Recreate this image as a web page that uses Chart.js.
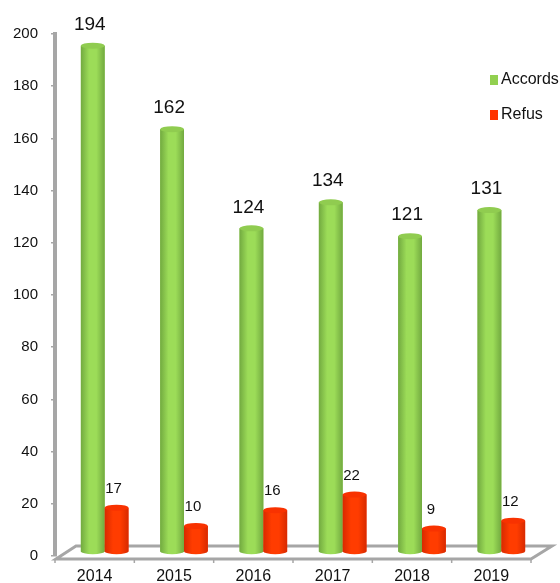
<!DOCTYPE html>
<html>
<head>
<meta charset="utf-8">
<style>
  html, body { margin: 0; padding: 0; background: #fff; }
  canvas { display: block; }
</style>
<script src="https://cdn.jsdelivr.net/npm/chart.js@4"></script>
</head>
<body>
<canvas id="chart" width="560" height="583"></canvas>
<script>
const years = ['2014', '2015', '2016', '2017', '2018', '2019'];
const accords = [194, 162, 124, 134, 121, 131];
const refus = [17, 10, 16, 22, 9, 12];
const yTicks = [0, 20, 40, 60, 80, 100, 120, 140, 160, 180, 200];

const FONT = '"Liberation Sans", Arial, sans-serif';
const GREY = '#a6a6a6';
// the series sit behind the axis plane, like the old 3D excel charts
const DEPTH_X = 10, DEPTH_Y = -4;

const styles = [
  { flat: '#92d050', edge: '#72aa40', mid: '#9cdc58', top: '#90cc50', labelSize: 19, labelGap: 21 },
  { flat: '#ff3300', edge: '#d82a00', mid: '#ff3c00', top: '#f83200', labelSize: 15, labelGap: 19 }
];

const floorPlugin = {
  id: 'floor',
  beforeDatasetsDraw(chart) {
    const { ctx, chartArea: a } = chart;
    const front = a.bottom + 3, back = a.bottom - 10;
    ctx.save();
    ctx.strokeStyle = GREY;
    ctx.lineWidth = 3;
    ctx.beginPath();
    ctx.moveTo(a.left + 1, front);
    ctx.lineTo(a.right, front);
    ctx.lineTo(a.right + 21, back);
    ctx.lineTo(a.left + 21, back);
    ctx.closePath();
    ctx.stroke();
    // tick marks between the categories
    ctx.lineWidth = 1.5;
    const step = (a.right - a.left) / years.length;
    for (let i = 0; i <= years.length; i++) {
      ctx.beginPath();
      ctx.moveTo(a.left + step * i, front);
      ctx.lineTo(a.left + step * i, front + 4);
      ctx.stroke();
    }
    ctx.restore();
    ctx.save();
    ctx.translate(DEPTH_X, DEPTH_Y);
  },
  afterDatasetsDraw(chart) {
    const ctx = chart.ctx;
    chart.data.datasets.forEach((ds, d) => {
      const st = styles[d];
      chart.getDatasetMeta(d).data.forEach(bar => {
        const left = bar.x - bar.width / 2, right = bar.x + bar.width / 2;
        const rx = bar.width / 2, ry = 3;
        const g = ctx.createLinearGradient(left, 0, right, 0);
        g.addColorStop(0, st.edge);
        g.addColorStop(0.35, st.mid);
        g.addColorStop(0.65, st.mid);
        g.addColorStop(1, st.edge);
        ctx.fillStyle = g;
        ctx.beginPath();
        ctx.moveTo(left, bar.y);
        ctx.lineTo(left, bar.base);
        ctx.ellipse(bar.x, bar.base, rx, ry, 0, Math.PI, 0, true);
        ctx.lineTo(right, bar.y);
        ctx.closePath();
        ctx.fill();
        ctx.fillStyle = st.top;
        ctx.beginPath();
        ctx.ellipse(bar.x, bar.y, rx, ry, 0, 0, Math.PI * 2);
        ctx.fill();
      });
    });
    chart.data.datasets.forEach((ds, d) => {
      ctx.fillStyle = '#111';
      ctx.font = styles[d].labelSize + 'px ' + FONT;
      ctx.textAlign = 'center';
      ctx.textBaseline = 'middle';
      chart.getDatasetMeta(d).data.forEach((bar, i) => {
        ctx.fillText(ds.data[i], bar.x - 3, bar.y - styles[d].labelGap);
      });
    });
    ctx.restore();

    // legend sits over the plot, top right
    ctx.save();
    ctx.font = '16px ' + FONT;
    ctx.textBaseline = 'middle';
    ctx.textAlign = 'left';
    chart.data.datasets.forEach((ds, d) => {
      const y = 80 + d * 35;
      ctx.fillStyle = styles[d].flat;
      ctx.fillRect(490, y - 5, 8, 10);
      ctx.fillStyle = '#111';
      ctx.fillText(ds.label, 501, y);
    });
    ctx.restore();
  }
};

new Chart(document.getElementById('chart'), {
  type: 'bar',
  data: {
    labels: years,
    datasets: [
      { label: 'Accords', data: accords, backgroundColor: styles[0].flat, clip: false },
      { label: 'Refus', data: refus, backgroundColor: styles[1].flat, clip: false }
    ]
  },
  options: {
    responsive: false,
    animation: false,
    events: [],
    layout: { padding: { top: 34, right: 29 } },
    datasets: { bar: { barPercentage: 1, categoryPercentage: 0.6 } },
    plugins: { legend: { display: false }, tooltip: { enabled: false } },
    scales: {
      x: {
        afterFit(s) { s.height = 27; },
        grid: { display: false },
        border: { display: false },
        ticks: { color: '#111', font: { family: FONT, size: 16 }, padding: 3, maxRotation: 0 }
      },
      y: {
        min: 0,
        max: 200,
        afterFit(s) { s.width = 55; },
        afterBuildTicks(s) { s.ticks = yTicks.map(v => ({ value: v })); },
        grid: { drawOnChartArea: false, color: GREY, tickLength: 4, lineWidth: 1.5 },
        border: { color: GREY, width: 4 },
        ticks: { color: '#111', font: { family: FONT, size: 15 }, padding: 13 }
      }
    }
  },
  plugins: [floorPlugin]
});
</script>
</body>
</html>
